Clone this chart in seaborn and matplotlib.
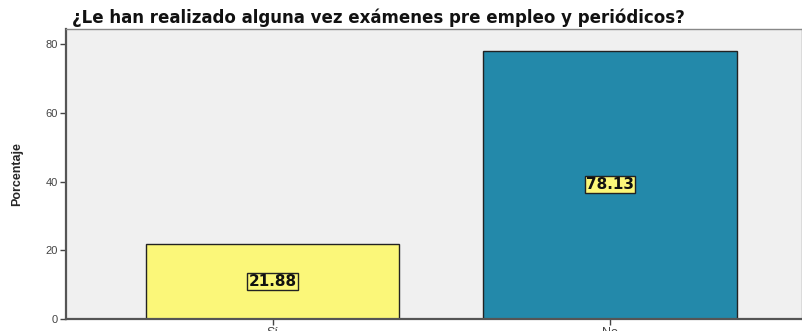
import matplotlib
matplotlib.use("Agg")
import matplotlib.pyplot as plt
import seaborn as sns
import pandas as pd

categories = ["Sí", "No"]
percentages = [21.88, 78.13]
bar_colors = ["#FBF779", "#2389AA"]
yticks = [0, 20, 40, 60, 80]
title = "¿Le han realizado alguna vez exámenes pre empleo y periódicos?"

sns.set_theme(style="white")
plt.rcParams["font.family"] = ["Liberation Sans", "DejaVu Sans"]

df = pd.DataFrame({"categoria": categories, "porcentaje": percentages})

fig = plt.figure(figsize=(8.02, 3.31), dpi=100)
ax = fig.add_axes([66 / 802, 12 / 331, 736 / 802, 290 / 331])
ax.set_facecolor("#F0F0F0")

sns.barplot(data=df, x="categoria", y="porcentaje", hue="categoria",
            palette=bar_colors, saturation=1, width=0.75,
            edgecolor="#222222", linewidth=1.0, legend=False, ax=ax)

for i, v in enumerate(percentages):
    ax.text(i, v / 2, f"{v:.2f}", ha="center", va="center",
            fontsize=11, fontweight="bold", color="#111111",
            family=["DejaVu Sans"],
            bbox=dict(boxstyle="square,pad=0.08", facecolor="#FBF779",
                      edgecolor="#222222", linewidth=1.0))

ax.set_xlim(-0.612, 1.569)
ax.set_ylim(0, 84.4)
ax.set_yticks(yticks)
ax.set_yticklabels([str(t) for t in yticks], fontsize=8, color="#444444")
ax.tick_params(axis="both", which="both", length=4, width=1, color="#444444",
               direction="out", left=True, bottom=True, pad=2)
ax.tick_params(axis="x", labelsize=9, labelcolor="#444444")
ax.set_xlabel("")
ax.set_ylabel("Porcentaje", fontsize=9, fontweight="bold",
              family=["Liberation Sans Narrow", "Liberation Sans"],
              labelpad=16)

for side in ["left", "bottom"]:
    ax.spines[side].set_color("#555555")
    ax.spines[side].set_linewidth(1.6)
for side in ["top", "right"]:
    ax.spines[side].set_color("#888888")
    ax.spines[side].set_linewidth(1.0)

fig.text(72 / 802, 1 - 18 / 331, title, fontsize=12, fontweight="bold",
         family=["DejaVu Sans"], ha="left", va="center", color="#111111")

fig.savefig("out.png", dpi=100, facecolor="white")
